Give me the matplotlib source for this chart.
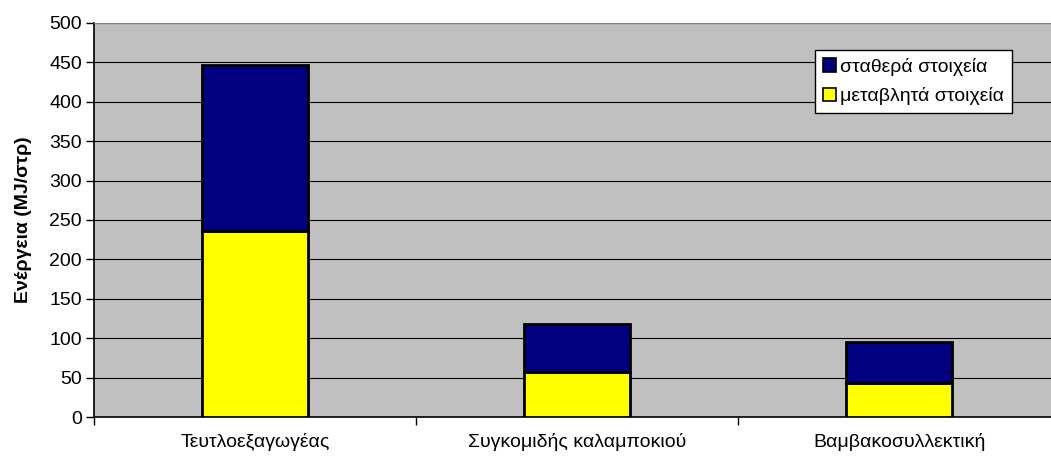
import matplotlib
matplotlib.use("Agg")
import matplotlib.pyplot as plt
import numpy as np

plt.rcParams['font.family'] = ['Liberation Sans', 'DejaVu Sans']

kathgories = ["Τευτλοεξαγωγέας", "Συγκομιδής καλαμποκιού", "Βαμβακοσυλλεκτική"]
metavlhta = [236, 58, 44]
statheta = [210, 60, 51]

fig = plt.figure(figsize=(10.51, 4.59), dpi=100)
ax = fig.add_axes([0.0897, 0.0909, 0.919, 0.8597])
ax.set_facecolor('#c0c0c0')

x = np.arange(len(kathgories))
ax.bar(x, metavlhta, width=0.33, color='#ffff00', edgecolor='black',
       linewidth=2, label='μεταβλητά στοιχεία', zorder=3)
ax.bar(x, statheta, width=0.33, bottom=metavlhta, color='#000080',
       edgecolor='black', linewidth=2, label='σταθερά στοιχεία', zorder=3)

ax.set_xlim(-0.5, 2.5)
ax.set_ylim(0, 500)
ax.set_yticks(range(0, 501, 50))
ax.yaxis.grid(True, color='black', linewidth=0.8, zorder=1)
ax.set_xticks(x)
ax.set_xticklabels(kathgories, fontsize=14)
ax.tick_params(axis='x', length=0, pad=11)
ax.set_xticks([-0.5, 0.5, 1.5, 2.5], minor=True)
ax.tick_params(axis='x', which='minor', length=6, width=1)
ax.tick_params(axis='y', labelsize=14, length=6, width=1, pad=3)
ax.set_ylabel('Ενέργεια (MJ/στρ)', fontsize=14, fontweight='bold', labelpad=12)

ax.spines['right'].set_visible(False)
ax.spines['top'].set_color('#808080')
ax.spines['left'].set_linewidth(1.2)
ax.spines['bottom'].set_linewidth(1.2)

h, l = ax.get_legend_handles_labels()
leg = ax.legend(h[::-1], l[::-1], loc='upper left', bbox_to_anchor=(0.746, 0.931),
                fontsize=14, frameon=True, fancybox=False, edgecolor='black',
                framealpha=1, handlelength=0.7, handleheight=0.7,
                handletextpad=0.2, borderpad=0.4, labelspacing=0.6, borderaxespad=0)
leg.get_frame().set_linewidth(1)
for p in leg.get_patches():
    p.set_linewidth(1.2)

fig.savefig('out.png', dpi=100)
